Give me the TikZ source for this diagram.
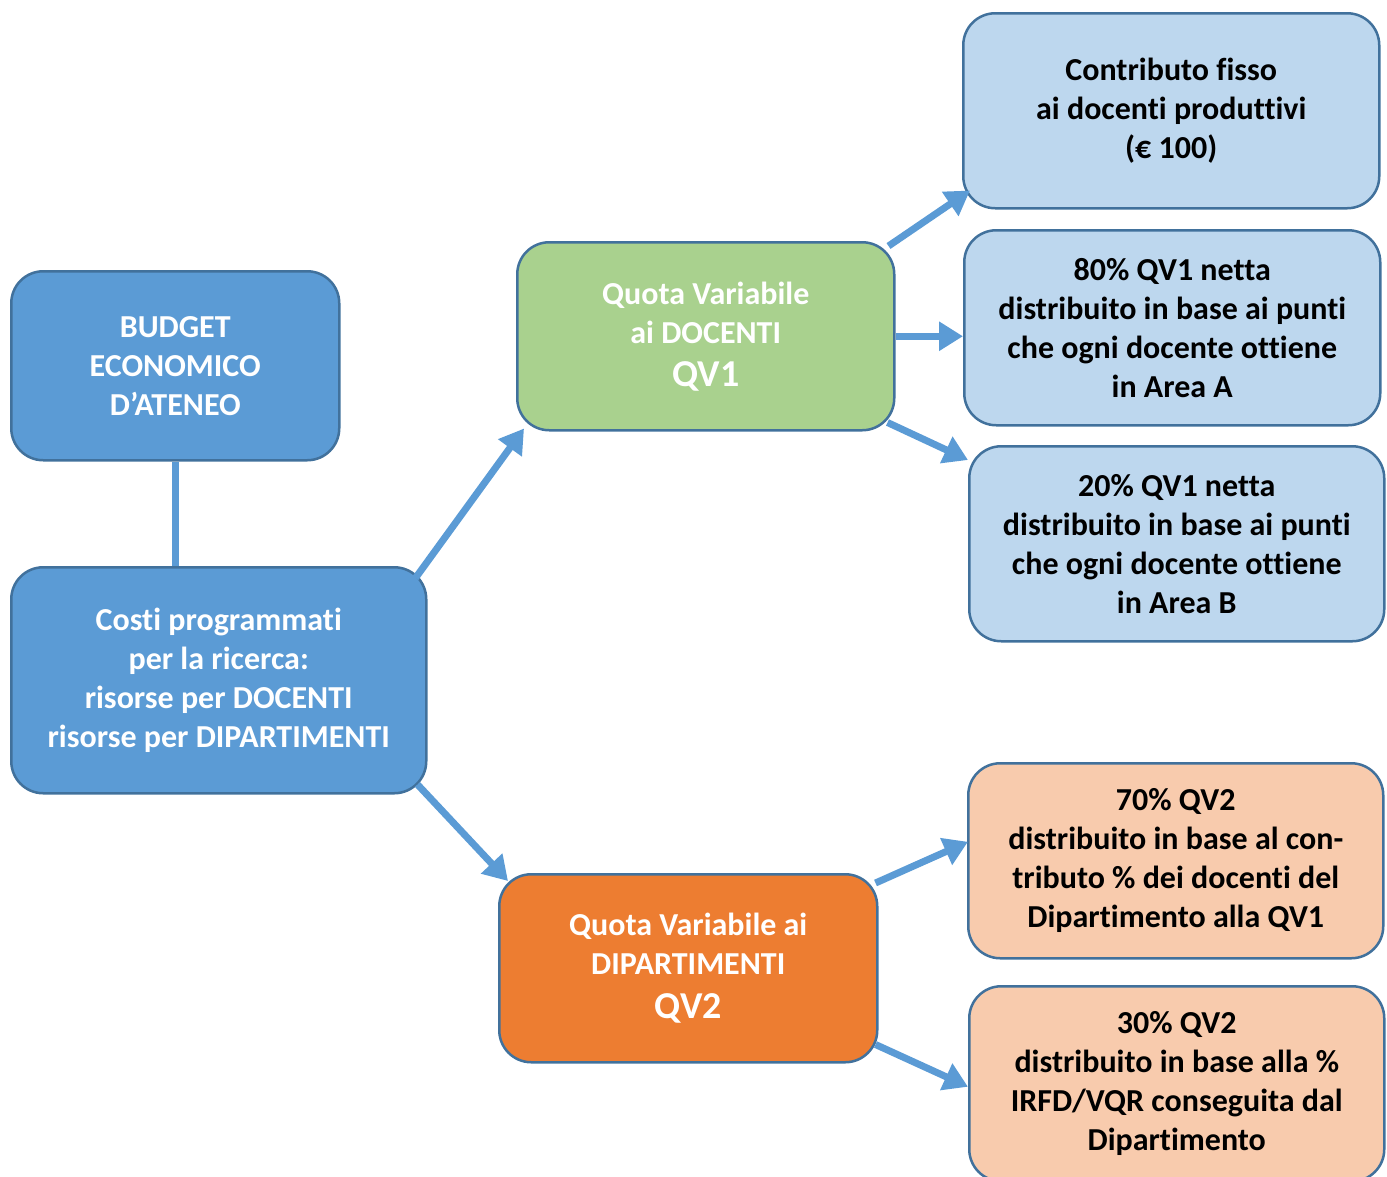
\documentclass[tikz,border=0pt]{standalone}
\usepackage{fontspec}
\setmainfont{Carlito}[Ligatures=NoCommon]
\usetikzlibrary{arrows.meta,calc}
\definecolor{midblue}{HTML}{5B9BD5}
\definecolor{edgeblue}{HTML}{41719C}
\definecolor{lightblue}{HTML}{BDD7EE}
\definecolor{qgreen}{HTML}{A9D18E}
\definecolor{qorange}{HTML}{ED7D31}
\definecolor{lightorange}{HTML}{F8CBAD}
\tikzset{
  boxbase/.style={draw=edgeblue, line width=2.5pt, rounded corners=32pt, anchor=north west,
    inner sep=0pt, align=center, font=\bfseries\fontsize{32}{39}\selectfont},
  darkbox/.style={boxbase, fill=midblue, text=white},
  greenbox/.style={boxbase, fill=qgreen, text=white},
  orangebox/.style={boxbase, fill=qorange, text=white},
  lbbox/.style={boxbase, fill=lightblue, text=black},
  lobox/.style={boxbase, fill=lightorange, text=black},
  fatarrow/.style={draw=midblue, line width=7pt, -{Triangle[length=24pt,width=28pt]}},
  plainline/.style={draw=midblue, line width=7pt}
}
\newcommand{\bigq}[1]{{\fontsize{38}{44}\selectfont #1}}
\begin{document}
\begin{tikzpicture}[x=1pt,y=-1pt]
\useasboundingbox (0,0) rectangle (1387,1176);

\node[darkbox, minimum width=328pt, minimum height=189pt] (budget) at (10,270)
  {BUDGET\\ECONOMICO\\D’ATENEO};
\node[darkbox, minimum width=415pt, minimum height=226pt] (costi) at (10,566)
  {Costi programmati\\per la ricerca:\\risorse per DOCENTI\\risorse per DIPARTIMENTI};
\node[greenbox, minimum width=377pt, minimum height=188pt] (qv1) at (516,241)
  {Quota Variabile\\ai DOCENTI\\[4pt]\bigq{QV1}};
\node[orangebox, minimum width=378pt, minimum height=188pt] (qv2) at (498,873)
  {Quota Variabile ai\\DIPARTIMENTI\\[5pt]\bigq{QV2}};

\node[lbbox, minimum width=416pt, minimum height=195pt] (b1) at (962,12)
  {Contributo fisso\\ai docenti produttivi\\(€ 100)};
\node[lbbox, minimum width=416pt, minimum height=195pt] (b2) at (963,229)
  {80\% QV1 netta\\distribuito in base ai punti\\che ogni docente ottiene\\in Area A};
\node[lbbox, minimum width=415pt, minimum height=195pt] (b3) at (968,445)
  {20\% QV1 netta\\distribuito in base ai punti\\che ogni docente ottiene\\in Area B};
\node[lobox, minimum width=415pt, minimum height=195pt] (b4) at (967,762)
  {70\% QV2\\distribuito in base al con-\\tributo \% dei docenti del\\Dipartimento alla QV1};
\node[lobox, minimum width=415pt, minimum height=195pt] (b5) at (968,985)
  {30\% QV2\\distribuito in base alla \%\\IRFD/VQR conseguita dal\\Dipartimento};

% connectors
\draw[plainline] (budget.south) -- (budget.south |- costi.north);
\draw[fatarrow] ($(costi.north east)+(-12,12)$) -- ($(qv1.south west)+(8,-3)$);
\draw[fatarrow] ($(costi.south east)+(-10,-10)$) -- ($(qv2.north west)+(10,8)$);
\draw[fatarrow] ($(qv1.north east)+(-7,5)$) -- ($(b1.south west)+(8,-19)$);
\draw[fatarrow] (qv1.east) -- (qv1.east -| b2.west);
\draw[fatarrow] ($(qv1.south east)+(-8,-9)$) -- ($(b3.north west)+(0,15)$);
\draw[fatarrow] ($(qv2.north east)+(-3,10)$) -- ($(b4.west)+(1,-19)$);
\draw[fatarrow] ($(qv2.south east)+(-3,-19)$) -- ($(b5.west)+(0,3)$);
\end{tikzpicture}
\end{document}
